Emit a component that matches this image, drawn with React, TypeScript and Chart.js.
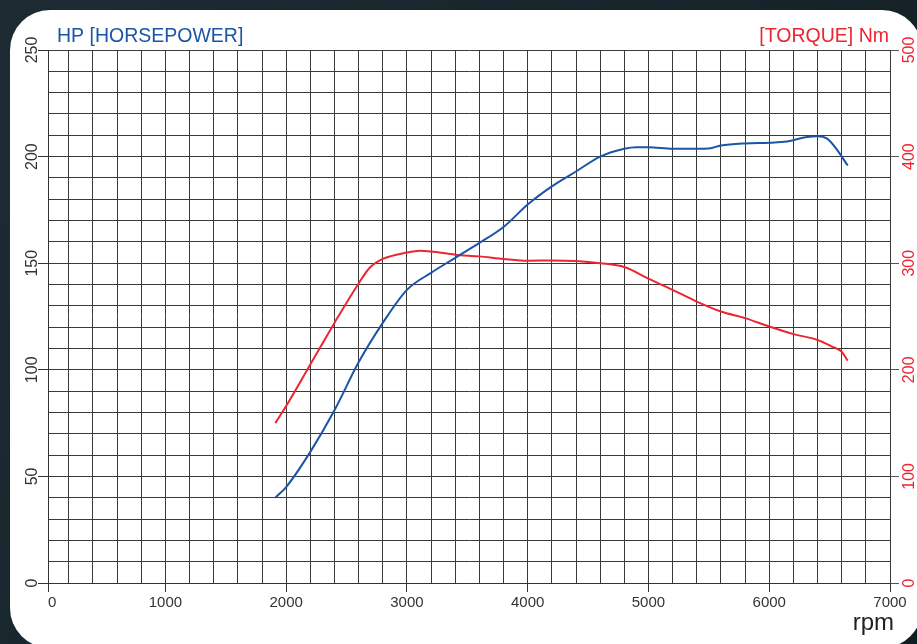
import { useEffect, useRef } from 'react';
import { Chart, registerables } from 'chart.js';

Chart.register(...registerables);

// ---- data ----
const hpRpm = [1910, 2000, 2200, 2400, 2600, 2800, 3000, 3200, 3400, 3600, 3800, 4000, 4200, 4400, 4600, 4800, 4900, 5000, 5200, 5400, 5500, 5600, 5800, 6000, 6100, 6200, 6300, 6400, 6480, 6560, 6650];
const hpValues = [40, 45, 61.5, 81, 103.5, 122, 137.5, 145.5, 152.5, 159.5, 167, 177.5, 186, 193, 200, 203.7, 204.4, 204.4, 203.7, 203.7, 203.8, 205.2, 206.2, 206.5, 206.8, 207.7, 209.1, 209.6, 208.4, 203.3, 195.8];
const tqRpm = [1910, 2000, 2200, 2400, 2600, 2690, 2800, 3000, 3110, 3200, 3400, 3600, 3800, 4000, 4200, 4400, 4600, 4800, 5000, 5200, 5400, 5600, 5800, 6000, 6200, 6400, 6520, 6600, 6650];
const tqValues = [150, 166, 205, 244, 281, 295.5, 304, 310, 311.7, 311, 308, 306.4, 304, 302.3, 302.6, 302, 300, 296.4, 285.5, 275, 264, 254.7, 248.5, 240.6, 233.5, 228, 221.8, 217, 208.6];

const rpmLabels = [0, 1000, 2000, 3000, 4000, 5000, 6000, 7000];
const hpTicks = [0, 50, 100, 150, 200, 250];
const tqTicks = [0, 100, 200, 300, 400, 500];

const hpTitle = 'HP [HORSEPOWER]';
const tqTitle = '[TORQUE] Nm';
const xTitle = 'rpm';

const W = 917;
const H = 644;
const X_MIN = 28; // the drawn left border sits slightly right of 0 rpm in the reference
const FONT = '"Liberation Sans", Arial, Helvetica, sans-serif';
const BLUE = '#1a55a6';
const RED = '#ec2530';
const GRID = '#3a3a3a';

const framePlugin = {
  id: 'frame',
  beforeDraw(chart: any) {
    const ctx = chart.ctx as CanvasRenderingContext2D;
    ctx.save();
    const g = ctx.createLinearGradient(0, 0, W, H);
    g.addColorStop(0, '#1d2c33');
    g.addColorStop(1, '#121d23');
    ctx.fillStyle = g;
    ctx.fillRect(0, 0, W, H);
    const x = 10, y = 10, w = 912, h = 638, r = 40;
    ctx.beginPath();
    ctx.moveTo(x + r, y);
    ctx.lineTo(x + w - r, y);
    ctx.arcTo(x + w, y, x + w, y + r, r);
    ctx.lineTo(x + w, y + h - r);
    ctx.arcTo(x + w, y + h, x + w - r, y + h, r);
    ctx.lineTo(x + r, y + h);
    ctx.arcTo(x, y + h, x, y + h - r, r);
    ctx.lineTo(x, y + r);
    ctx.arcTo(x, y, x + r, y, r);
    ctx.closePath();
    ctx.fillStyle = '#ffffff';
    ctx.fill();
    ctx.restore();
  },
};

const labelPlugin = {
  id: 'labels',
  afterDraw(chart: any) {
    const ctx = chart.ctx as CanvasRenderingContext2D;
    const area = chart.chartArea;
    const yL = chart.scales.yHp;
    const yR = chart.scales.yTq;
    ctx.save();
    ctx.font = `16px ${FONT}`;
    ctx.textAlign = 'center';
    ctx.textBaseline = 'alphabetic';
    hpTicks.forEach((v) => {
      const py = yL.getPixelForValue(v);
      ctx.save();
      ctx.translate(area.left - 11.5, py);
      ctx.rotate(-Math.PI / 2);
      ctx.fillStyle = '#333333';
      ctx.fillText(String(v), 0, 0);
      ctx.restore();
    });
    tqTicks.forEach((v) => {
      const py = yR.getPixelForValue(v);
      ctx.save();
      ctx.translate(area.right + 24, py);
      ctx.rotate(-Math.PI / 2);
      ctx.fillStyle = RED;
      ctx.fillText(String(v), 0, 0);
      ctx.restore();
    });
    ctx.font = `19.5px ${FONT}`;
    ctx.textAlign = 'left';
    ctx.fillStyle = BLUE;
    ctx.fillText(hpTitle, 57, 41.5);
    ctx.textAlign = 'right';
    ctx.fillStyle = RED;
    ctx.fillText(tqTitle, 889, 41.5);
    ctx.font = `24px ${FONT}`;
    ctx.fillStyle = '#222222';
    ctx.fillText(xTitle, 894, 630);
    ctx.restore();
  },
};

function makeTicks(from: number, to: number, step: number) {
  const out: { value: number }[] = [];
  for (let v = from; v <= to + 1e-9; v += step) out.push({ value: v });
  return out;
}

export default function App() {
  const ref = useRef<HTMLCanvasElement | null>(null);

  useEffect(() => {
    if (!ref.current) return;
    const chart = new Chart(ref.current, {
      type: 'line',
      data: {
        datasets: [
          {
            label: 'HP',
            data: hpRpm.map((r, i) => ({ x: r, y: hpValues[i] })),
            borderColor: BLUE,
            borderWidth: 2,
            pointRadius: 0,
            cubicInterpolationMode: 'monotone',
            yAxisID: 'yHp',
          },
          {
            label: 'Torque',
            data: tqRpm.map((r, i) => ({ x: r, y: tqValues[i] })),
            borderColor: RED,
            borderWidth: 2,
            pointRadius: 0,
            cubicInterpolationMode: 'monotone',
            yAxisID: 'yTq',
          },
        ],
      },
      options: {
        responsive: false,
        animation: false,
        devicePixelRatio: 1,
        layout: { padding: { top: 50, left: 0, right: 0, bottom: 0 } },
        plugins: { legend: { display: false }, tooltip: { enabled: false } },
        scales: {
          x: {
            type: 'linear',
            position: 'bottom',
            min: X_MIN,
            max: 7000,
            afterBuildTicks: (scale: any) => {
              scale.ticks = [{ value: X_MIN }, ...makeTicks(200, 7000, 200)];
            },
            afterFit: (scale: any) => {
              scale.height = 61;
            },
            ticks: {
              autoSkip: false,
              maxRotation: 0,
              minRotation: 0,
              padding: 2,
              color: '#333333',
              font: { family: FONT, size: 15 },
              callback: (v: any) => {
                if (v === X_MIN) return '  ' + rpmLabels[0];
                return rpmLabels.includes(v) ? String(v) : '';
              },
            },
            grid: {
              color: GRID,
              lineWidth: 1,
              tickLength: 9,
              tickColor: (c: any) =>
                c.tick && (c.tick.value === X_MIN || c.tick.value % 1000 === 0) ? '#333333' : 'rgba(0,0,0,0)',
            },
            border: { display: true, color: '#333333', width: 1 },
          },
          yHp: {
            type: 'linear',
            position: 'left',
            min: 0,
            max: 250,
            afterBuildTicks: (scale: any) => {
              scale.ticks = makeTicks(0, 250, 10);
            },
            afterFit: (scale: any) => {
              scale.width = 48;
            },
            ticks: { display: false },
            grid: {
              color: GRID,
              lineWidth: 1,
              tickLength: 10,
              tickColor: (c: any) =>
                c.tick && hpTicks.includes(c.tick.value) ? '#333333' : 'rgba(0,0,0,0)',
            },
            border: { display: true, color: '#333333', width: 1 },
          },
          yTq: {
            type: 'linear',
            position: 'right',
            min: 0,
            max: 500,
            afterBuildTicks: (scale: any) => {
              scale.ticks = tqTicks.map((v) => ({ value: v }));
            },
            afterFit: (scale: any) => {
              scale.width = 27;
            },
            ticks: { display: false },
            grid: {
              drawOnChartArea: false,
              tickLength: 9,
              tickColor: '#555555',
            },
            border: { display: true, color: GRID, width: 1 },
          },
        },
      },
      plugins: [framePlugin, labelPlugin],
    } as any);
    return () => chart.destroy();
  }, []);

  return (
    <div style={{ position: 'fixed', left: 0, top: 0, width: W, height: H }}>
      <canvas ref={ref} width={W} height={H} style={{ display: 'block', width: W, height: H }} />
    </div>
  );
}
